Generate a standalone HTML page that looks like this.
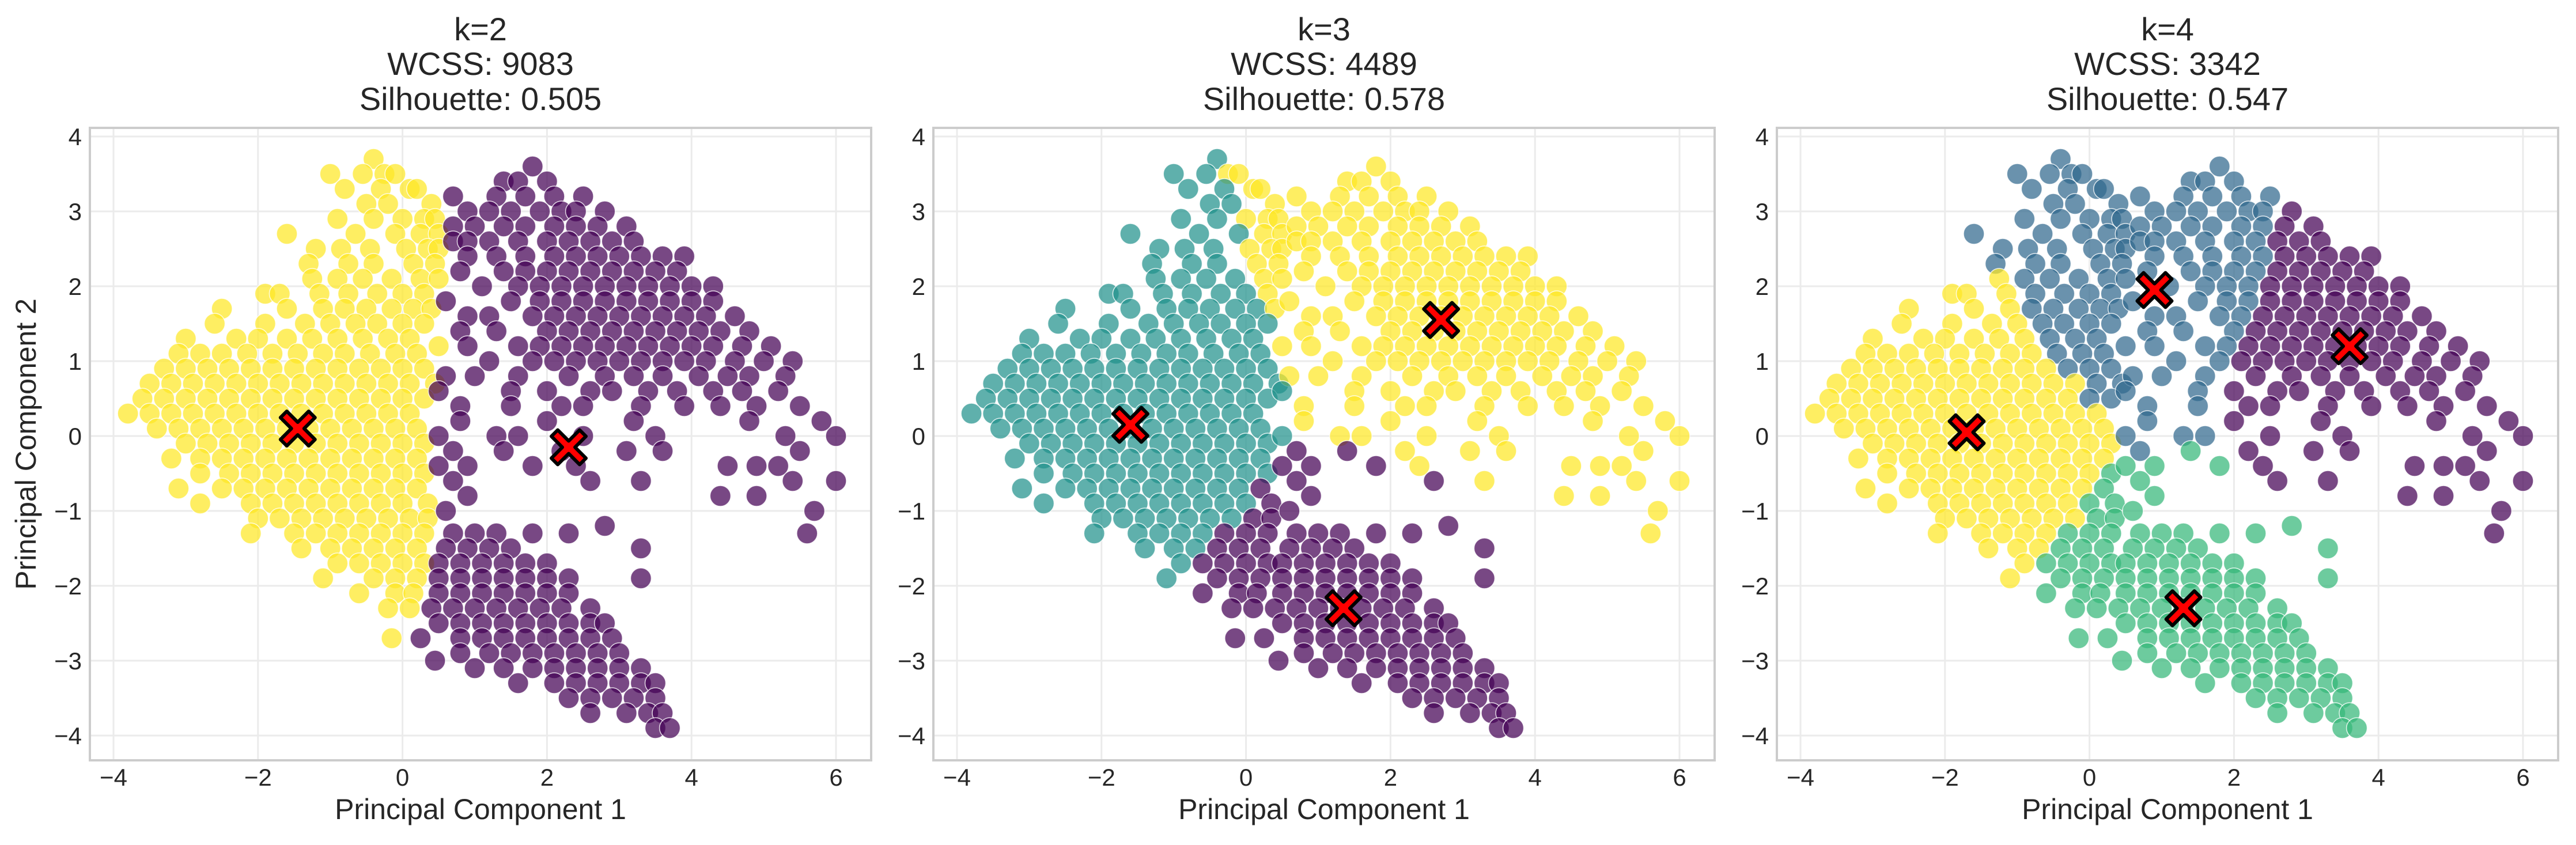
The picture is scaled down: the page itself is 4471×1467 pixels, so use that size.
<!DOCTYPE html>
<html><head><meta charset="utf-8"><style>
html,body{margin:0;padding:0;background:#fff}
svg{display:block}
text{font-family:"Liberation Sans",Arial,sans-serif;fill:#262626}
</style></head><body>
<svg id="chart" width="4471" height="1467" viewBox="0 0 4471 1467" xmlns="http://www.w3.org/2000/svg"></svg>
<script>
// data rows: y value -> list of x values
const rowYs = [3.7,3.5,3.3,3.1,2.9,2.7,2.5,2.3,2.1,1.9,1.7,1.5,1.3,1.1,0.9,0.7,0.5,0.3,0.1,-0.1,-0.3,-0.5,-0.7,-0.9,-1.1,-1.3,-1.5,-1.7,-1.9,-2.1,-2.3,-2.7];
const rowXs = [
[-0.4],[-1.0,-0.55,-0.25,-0.1],[-0.8,-0.3,0.1,0.2],[-0.5,-0.2,0.4],[-0.9,-0.4,0.0,0.3,0.45],
[-1.6,-0.65,-0.1,0.25,0.5],[-1.2,-0.85,-0.45,0.05,0.35,0.5],[-1.3,-0.75,-0.4,0.15,0.45],
[-1.25,-0.9,-0.55,-0.15,0.25,0.5],[-1.9,-1.7,-1.15,-0.75,-0.35,0.0,0.3],
[-2.5,-1.6,-1.1,-0.8,-0.5,-0.15,0.15,0.4],[-2.6,-1.9,-1.35,-1.0,-0.65,-0.35,0.0,0.3],
[-3.0,-2.3,-2.0,-1.6,-1.25,-0.9,-0.55,-0.2,0.1],[-3.1,-2.8,-2.5,-2.15,-1.8,-1.45,-1.1,-0.8,-0.45,-0.1,0.2],
[-3.3,-3.0,-2.7,-2.4,-2.1,-1.8,-1.5,-1.2,-0.9,-0.6,-0.3,0.0,0.3],
[-3.5,-3.2,-2.9,-2.6,-2.3,-2.0,-1.7,-1.4,-1.1,-0.8,-0.5,-0.2,0.1,0.45],
[-3.6,-3.3,-3.0,-2.7,-2.4,-2.1,-1.8,-1.5,-1.2,-0.9,-0.6,-0.3,0.0,0.3],
[-3.8,-3.5,-3.2,-2.9,-2.6,-2.3,-2.0,-1.7,-1.4,-1.1,-0.8,-0.5,-0.2,0.1],
[-3.4,-3.1,-2.8,-2.5,-2.2,-1.9,-1.6,-1.3,-1.0,-0.7,-0.4,-0.1,0.2],
[-3.0,-2.7,-2.4,-2.1,-1.8,-1.5,-1.2,-0.9,-0.6,-0.3,0.0,0.3],
[-3.2,-2.8,-2.5,-2.2,-1.9,-1.6,-1.3,-1.0,-0.7,-0.4,-0.1,0.2],
[-2.8,-2.4,-2.1,-1.8,-1.5,-1.2,-0.9,-0.6,-0.3,0.0,0.3],
[-3.1,-2.5,-2.2,-1.9,-1.6,-1.3,-1.0,-0.7,-0.4,-0.1,0.2],
[-2.8,-2.1,-1.8,-1.5,-1.2,-0.9,-0.6,-0.3,0.0,0.35],
[-2.0,-1.7,-1.4,-1.1,-0.8,-0.5,-0.2,0.1,0.35],
[-2.1,-1.5,-1.2,-0.9,-0.6,-0.3,0.0,0.3],
[-1.4,-1.0,-0.7,-0.4,-0.1,0.2],[-0.9,-0.6,-0.3,0.0,0.3],[-1.1,-0.4,-0.1,0.2],
[-0.6,-0.1,0.15],[-0.2,0.1],[-0.15,0.25]
];
const armYs = [-1.3,-1.5,-1.7,-1.9,-2.1,-2.3,-2.5,-2.7,-2.9,-3.1,-3.3,-3.5,-3.7,-3.9,-3.0];
const armXs = [
[0.7,1.0,1.3,1.8],[0.6,0.9,1.2,1.5],[0.5,0.8,1.1,1.4,1.7,2.0],[0.5,0.8,1.1,1.4,1.7,2.0,2.3],
[0.5,0.8,1.1,1.4,1.7,2.0,2.3],[0.4,0.7,1.0,1.3,1.6,1.9,2.2,2.6],[0.5,0.8,1.1,1.4,1.7,2.0,2.3,2.6,2.8],
[0.8,1.1,1.4,1.7,2.0,2.3,2.6,2.9],[0.8,1.2,1.5,1.8,2.1,2.4,2.7,3.0],[1.0,1.4,1.8,2.1,2.4,2.7,3.0,3.3],
[1.6,2.1,2.4,2.7,3.0,3.3,3.5],[2.3,2.6,2.9,3.2,3.5],[2.6,3.1,3.4,3.6],[3.5,3.7],[0.45]
];
const upYs = [3.6,3.4,3.2,3.0,2.8,2.6,2.4,2.2,2.0,1.8,1.6,1.4,1.2,1.0,0.8,0.6,0.4,0.2,0.0,-0.2,-0.4,-0.6,-0.8,-1.0,-1.2,-1.3,-1.5,-1.9];
const upXs = [
[1.8],[1.4,1.6,2.0],[0.7,1.3,1.7,2.1,2.5],[0.9,1.2,1.5,1.9,2.2,2.4,2.8],[0.7,1.0,1.4,1.7,2.1,2.4,2.7,3.1],
[0.7,0.9,1.2,1.6,2.0,2.3,2.6,2.9,3.2],[0.9,1.3,1.7,2.1,2.4,2.7,3.0,3.3,3.6,3.9],
[0.8,1.4,1.7,2.0,2.3,2.6,2.9,3.2,3.5,3.8],[1.1,1.6,1.9,2.2,2.5,2.8,3.1,3.4,3.7,4.0,4.3],
[0.6,1.5,1.9,2.2,2.5,2.8,3.1,3.4,3.7,4.0,4.3],[0.9,1.2,1.8,2.1,2.4,2.7,3.0,3.3,3.6,3.9,4.2,4.6],
[0.8,1.3,2.0,2.3,2.6,2.9,3.2,3.5,3.8,4.1,4.4,4.8],[0.5,0.9,1.6,1.9,2.2,2.5,2.8,3.1,3.4,3.7,4.0,4.3,4.7,5.1],
[1.2,1.8,2.1,2.4,2.7,3.0,3.3,3.6,3.9,4.2,4.6,5.0,5.4],[0.6,1.0,1.6,2.3,2.8,3.2,3.6,4.1,4.5,4.8,5.3],
[0.5,1.5,2.0,2.6,2.9,3.4,3.8,4.3,4.7,5.2],[0.8,1.5,2.2,2.5,3.3,3.9,4.4,4.9,5.5],[0.8,2.0,3.2,4.8,5.8],
[0.5,1.3,1.6,2.5,3.5,5.3,6.0],[0.7,1.4,2.2,3.1,3.6,5.5],[0.5,0.9,1.8,2.4,4.5,4.9,5.2],
[0.7,2.6,3.3,5.4,6.0],[0.9,4.4,4.9],[0.6,5.7],[2.8],[2.3,5.6],[3.3],[3.3]
];
// panels
const panelKs = [2,3,4];
const wcss = [9083,4489,3342];
const silhouette = ["0.505","0.578","0.547"];
const centX = [[-1.45,2.3],[-1.6,1.35,2.7],[-1.7,0.9,3.6,1.3]];
const centY = [[0.1,-0.15],[0.15,-2.3,1.55],[0.05,1.95,1.2,-2.3]];
const centColors = [["#fde725","#440154"],["#21918c","#440154","#fde725"],["#fde725","#31688e","#440154","#35b779"]];
const xTicks = [-4,-2,0,2,4,6];
const yTicks = [-4,-3,-2,-1,0,1,2,3,4];

const NS="http://www.w3.org/2000/svg";
const svg=document.getElementById('chart');
function mk(tag,attrs,parent){const e=document.createElementNS(NS,tag);for(const k in attrs)e.setAttribute(k,attrs[k]);(parent||svg).appendChild(e);return e;}

const pts=[];
function addRows(ys,xs){ys.forEach((y,i)=>xs[i].forEach(x=>pts.push([x,y])));}
addRows(rowYs,rowXs);addRows(armYs,armXs);addRows(upYs,upXs);

const W=1356, L0=156, DX=1464, TOP=222, BOT=1320;
panelKs.forEach((k,p)=>{
  const left=L0+p*DX, right=left+W;
  const sx=v=>left+41+(v+4)*125.4;
  const sy=v=>237+(4-v)*130;
  const g=mk('g',{});
  
  
  xTicks.forEach(t=>{const l=mk('line',{x1:sx(t),x2:sx(t),y1:TOP,y2:BOT,stroke:'#ebebeb','stroke-width':3},g);
    
    const tx=mk('text',{x:sx(t),y:1364,'font-size':42,'text-anchor':'middle'},g);tx.textContent=(t<0?'\u2212'+(-t):t);
    });
  yTicks.forEach(t=>{const l=mk('line',{x1:left,x2:right,y1:sy(t),y2:sy(t),stroke:'#ebebeb','stroke-width':3},g);
    
    const tx=mk('text',{x:left-14,y:sy(t)+15,'font-size':42,'text-anchor':'end'},g);tx.textContent=(t<0?'\u2212'+(-t):t);
    });
  const cx=centX[p], cy=centY[p], cols=centColors[p];
  pts.forEach(([x,y])=>{
    let best=0,bd=1e9;cx.forEach((c,j)=>{const d=(x-c)**2+(y-cy[j])**2;if(d<bd){bd=d;best=j;}});
    const c=mk('circle',{cx:sx(x),cy:sy(y),r:18,fill:cols[best],'fill-opacity':0.72,stroke:'#fff','stroke-width':1.5,'stroke-opacity':0.8},g);
    
    
  });
  cx.forEach((c,j)=>{
    const X=sx(c),Y=sy(cy[j]),a=11,b=30;
    const d=`M${X-b+a},${Y-b} L${X},${Y-a} L${X+b-a},${Y-b} L${X+b},${Y-b+a} L${X+a},${Y} L${X+b},${Y+b-a} L${X+b-a},${Y+b} L${X},${Y+a} L${X-b+a},${Y+b} L${X-b},${Y+b-a} L${X-a},${Y} L${X-b},${Y-b+a} Z`;
    const m=mk('path',{d:d,fill:'#ff0000',stroke:'#000','stroke-width':6,'stroke-linejoin':'round'},g);
    
    
  });
  const r=mk('rect',{x:left,y:TOP,width:W,height:BOT-TOP,fill:'none',stroke:'#cccccc','stroke-width':4},g);
  
  const mid=(left+right)/2;
  [['k='+k,70],['WCSS: '+wcss[p],130],['Silhouette: '+silhouette[p],191]].forEach(([s,y])=>{
    const t=mk('text',{x:mid,y:y,'font-size':56,'text-anchor':'middle'},g);t.textContent=s;
    });
  const xl=mk('text',{x:mid,y:1422,'font-size':50,'text-anchor':'middle'},g);xl.textContent='Principal Component 1';
  
});
const yl=mk('text',{x:0,y:0,'font-size':50,'text-anchor':'middle',transform:'translate(62,771) rotate(-90)'});
yl.textContent='Principal Component 2';


</script>
</body></html>
